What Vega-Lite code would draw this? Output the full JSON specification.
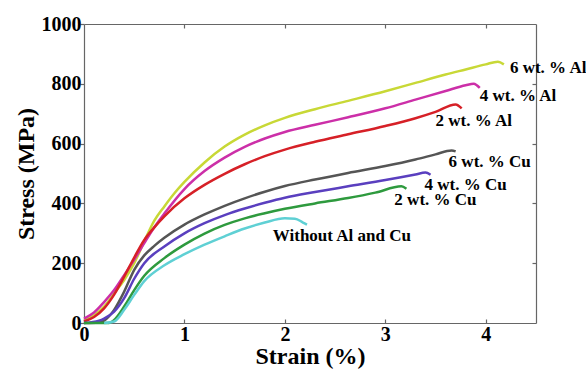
{
  "$schema": "https://vega.github.io/schema/vega-lite/v6.json",
  "width": 452,
  "height": 299,
  "autosize": {"type": "none"},
  "padding": {"left": 84, "top": 24, "right": 50, "bottom": 47},
  "background": "white",
  "config": {
    "view": {"stroke": null},
    "font": "Liberation Serif, Times New Roman, serif",
    "text": {"font": "Liberation Serif, Times New Roman, serif"},
    "axis": {
      "grid": false,
      "domainColor": "#666666",
      "tickColor": "#666666",
      "domainWidth": 1.2,
      "tickWidth": 1.2,
      "labelFont": "Liberation Serif, Times New Roman, serif",
      "labelFontWeight": "bold",
      "labelFontSize": 20,
      "labelColor": "black",
      "titleFont": "Liberation Serif, Times New Roman, serif",
      "titleFontWeight": "bold",
      "titleFontSize": 24,
      "titleColor": "black"
    }
  },
  "datasets": {
    "curves": [
      {"series": "6Al", "strain": 0, "stress": 10},
      {"series": "6Al", "strain": 0.1, "stress": 26},
      {"series": "6Al", "strain": 0.2, "stress": 55},
      {"series": "6Al", "strain": 0.3, "stress": 99},
      {"series": "6Al", "strain": 0.4, "stress": 144},
      {"series": "6Al", "strain": 0.5, "stress": 200},
      {"series": "6Al", "strain": 0.6, "stress": 273},
      {"series": "6Al", "strain": 0.7, "stress": 342},
      {"series": "6Al", "strain": 0.8, "stress": 390},
      {"series": "6Al", "strain": 0.9, "stress": 434},
      {"series": "6Al", "strain": 1.0, "stress": 472},
      {"series": "6Al", "strain": 1.2, "stress": 537},
      {"series": "6Al", "strain": 1.4, "stress": 590},
      {"series": "6Al", "strain": 1.6, "stress": 630},
      {"series": "6Al", "strain": 1.8, "stress": 661},
      {"series": "6Al", "strain": 2.0, "stress": 686},
      {"series": "6Al", "strain": 2.3, "stress": 715},
      {"series": "6Al", "strain": 2.63, "stress": 743},
      {"series": "6Al", "strain": 3.0, "stress": 775},
      {"series": "6Al", "strain": 3.3, "stress": 803},
      {"series": "6Al", "strain": 3.6, "stress": 831},
      {"series": "6Al", "strain": 3.8, "stress": 848},
      {"series": "6Al", "strain": 4.0, "stress": 865},
      {"series": "6Al", "strain": 4.12, "stress": 874},
      {"series": "6Al", "strain": 4.18, "stress": 865},
      {"series": "4Al", "strain": 0, "stress": 15},
      {"series": "4Al", "strain": 0.1, "stress": 35},
      {"series": "4Al", "strain": 0.2, "stress": 70},
      {"series": "4Al", "strain": 0.3, "stress": 110},
      {"series": "4Al", "strain": 0.4, "stress": 160},
      {"series": "4Al", "strain": 0.5, "stress": 212},
      {"series": "4Al", "strain": 0.6, "stress": 267},
      {"series": "4Al", "strain": 0.7, "stress": 320},
      {"series": "4Al", "strain": 0.8, "stress": 366},
      {"series": "4Al", "strain": 1.0, "stress": 448},
      {"series": "4Al", "strain": 1.2, "stress": 508},
      {"series": "4Al", "strain": 1.4, "stress": 553},
      {"series": "4Al", "strain": 1.6, "stress": 589},
      {"series": "4Al", "strain": 1.8, "stress": 617},
      {"series": "4Al", "strain": 2.0, "stress": 639},
      {"series": "4Al", "strain": 2.3, "stress": 663},
      {"series": "4Al", "strain": 2.63, "stress": 688},
      {"series": "4Al", "strain": 3.0, "stress": 718},
      {"series": "4Al", "strain": 3.3, "stress": 747},
      {"series": "4Al", "strain": 3.6, "stress": 776},
      {"series": "4Al", "strain": 3.8, "stress": 795},
      {"series": "4Al", "strain": 3.88, "stress": 800},
      {"series": "4Al", "strain": 3.94, "stress": 786},
      {"series": "2Al", "strain": 0, "stress": 5},
      {"series": "2Al", "strain": 0.1, "stress": 20},
      {"series": "2Al", "strain": 0.2, "stress": 49},
      {"series": "2Al", "strain": 0.3, "stress": 95},
      {"series": "2Al", "strain": 0.4, "stress": 155},
      {"series": "2Al", "strain": 0.5, "stress": 219},
      {"series": "2Al", "strain": 0.6, "stress": 278},
      {"series": "2Al", "strain": 0.7, "stress": 320},
      {"series": "2Al", "strain": 0.8, "stress": 357},
      {"series": "2Al", "strain": 1.0, "stress": 417},
      {"series": "2Al", "strain": 1.2, "stress": 462},
      {"series": "2Al", "strain": 1.4, "stress": 499},
      {"series": "2Al", "strain": 1.6, "stress": 531},
      {"series": "2Al", "strain": 1.8, "stress": 558},
      {"series": "2Al", "strain": 2.0, "stress": 580},
      {"series": "2Al", "strain": 2.3, "stress": 606},
      {"series": "2Al", "strain": 2.63, "stress": 631},
      {"series": "2Al", "strain": 3.0, "stress": 659},
      {"series": "2Al", "strain": 3.3, "stress": 685},
      {"series": "2Al", "strain": 3.5, "stress": 706},
      {"series": "2Al", "strain": 3.7, "stress": 731},
      {"series": "2Al", "strain": 3.76, "stress": 718},
      {"series": "6Cu", "strain": 0, "stress": 0},
      {"series": "6Cu", "strain": 0.15, "stress": 2},
      {"series": "6Cu", "strain": 0.2, "stress": 8},
      {"series": "6Cu", "strain": 0.3, "stress": 44},
      {"series": "6Cu", "strain": 0.4, "stress": 105},
      {"series": "6Cu", "strain": 0.5, "stress": 178},
      {"series": "6Cu", "strain": 0.6, "stress": 226},
      {"series": "6Cu", "strain": 0.7, "stress": 258},
      {"series": "6Cu", "strain": 0.8, "stress": 285},
      {"series": "6Cu", "strain": 1.0, "stress": 329},
      {"series": "6Cu", "strain": 1.2, "stress": 363},
      {"series": "6Cu", "strain": 1.4, "stress": 392},
      {"series": "6Cu", "strain": 1.6, "stress": 417},
      {"series": "6Cu", "strain": 1.8, "stress": 439},
      {"series": "6Cu", "strain": 2.0, "stress": 458},
      {"series": "6Cu", "strain": 2.3, "stress": 480},
      {"series": "6Cu", "strain": 2.63, "stress": 502},
      {"series": "6Cu", "strain": 3.0, "stress": 525},
      {"series": "6Cu", "strain": 3.3, "stress": 547},
      {"series": "6Cu", "strain": 3.5, "stress": 564},
      {"series": "6Cu", "strain": 3.66, "stress": 577},
      {"series": "6Cu", "strain": 3.7, "stress": 574},
      {"series": "4Cu", "strain": 0, "stress": 0},
      {"series": "4Cu", "strain": 0.15, "stress": 8},
      {"series": "4Cu", "strain": 0.2, "stress": 15},
      {"series": "4Cu", "strain": 0.3, "stress": 38},
      {"series": "4Cu", "strain": 0.4, "stress": 83},
      {"series": "4Cu", "strain": 0.5, "stress": 148},
      {"series": "4Cu", "strain": 0.6, "stress": 200},
      {"series": "4Cu", "strain": 0.8, "stress": 256},
      {"series": "4Cu", "strain": 1.0, "stress": 300},
      {"series": "4Cu", "strain": 1.2, "stress": 334},
      {"series": "4Cu", "strain": 1.4, "stress": 361},
      {"series": "4Cu", "strain": 1.6, "stress": 383},
      {"series": "4Cu", "strain": 1.8, "stress": 402},
      {"series": "4Cu", "strain": 2.0, "stress": 419},
      {"series": "4Cu", "strain": 2.3, "stress": 438},
      {"series": "4Cu", "strain": 2.63, "stress": 457},
      {"series": "4Cu", "strain": 3.0, "stress": 478},
      {"series": "4Cu", "strain": 3.3, "stress": 497},
      {"series": "4Cu", "strain": 3.4, "stress": 503},
      {"series": "4Cu", "strain": 3.45, "stress": 496},
      {"series": "2Cu", "strain": 0, "stress": 0},
      {"series": "2Cu", "strain": 0.25, "stress": 0},
      {"series": "2Cu", "strain": 0.3, "stress": 10},
      {"series": "2Cu", "strain": 0.4, "stress": 55},
      {"series": "2Cu", "strain": 0.5, "stress": 110},
      {"series": "2Cu", "strain": 0.6, "stress": 158},
      {"series": "2Cu", "strain": 0.8, "stress": 217},
      {"series": "2Cu", "strain": 1.0, "stress": 262},
      {"series": "2Cu", "strain": 1.2, "stress": 299},
      {"series": "2Cu", "strain": 1.4, "stress": 328},
      {"series": "2Cu", "strain": 1.6, "stress": 350},
      {"series": "2Cu", "strain": 1.8, "stress": 367},
      {"series": "2Cu", "strain": 2.0, "stress": 382},
      {"series": "2Cu", "strain": 2.3, "stress": 400},
      {"series": "2Cu", "strain": 2.63, "stress": 418},
      {"series": "2Cu", "strain": 2.9, "stress": 436},
      {"series": "2Cu", "strain": 3.16, "stress": 457},
      {"series": "2Cu", "strain": 3.21, "stress": 449},
      {"series": "none", "strain": 0.2, "stress": 0},
      {"series": "none", "strain": 0.3, "stress": 5},
      {"series": "none", "strain": 0.4, "stress": 44},
      {"series": "none", "strain": 0.5, "stress": 94},
      {"series": "none", "strain": 0.6, "stress": 140},
      {"series": "none", "strain": 0.8, "stress": 193},
      {"series": "none", "strain": 1.0, "stress": 230},
      {"series": "none", "strain": 1.2, "stress": 262},
      {"series": "none", "strain": 1.4, "stress": 290},
      {"series": "none", "strain": 1.6, "stress": 316},
      {"series": "none", "strain": 1.8, "stress": 336},
      {"series": "none", "strain": 2.0, "stress": 350},
      {"series": "none", "strain": 2.1, "stress": 349},
      {"series": "none", "strain": 2.18, "stress": 336},
      {"series": "none", "strain": 2.22, "stress": 329}
    ],
    "labels": [
      {"label": "6 wt. % Al", "strain": 4.24, "stress": 852},
      {"label": "4 wt. % Al", "strain": 3.94, "stress": 759},
      {"label": "2 wt. % Al", "strain": 3.5, "stress": 675},
      {"label": "6 wt. % Cu", "strain": 3.63, "stress": 537},
      {"label": "4 wt. % Cu", "strain": 3.39, "stress": 462},
      {"label": "2 wt. % Cu", "strain": 3.09, "stress": 411},
      {"label": "Without Al and Cu", "strain": 1.88, "stress": 290}
    ]
  },
  "layer": [
    {
      "data": {"name": "curves"},
      "mark": {"type": "line", "strokeWidth": 2.5, "interpolate": "monotone"},
      "encoding": {
        "x": {
          "field": "strain", "type": "quantitative",
          "scale": {"domain": [0, 4.5], "nice": false},
          "axis": {"orient": "bottom", "values": [0, 1, 2, 3, 4], "format": "d", "tickSize": -4, "labelPadding": 5, "title": "Strain (%)", "titlePadding": 0, "labelFlush": false}
        },
        "y": {
          "field": "stress", "type": "quantitative",
          "scale": {"domain": [0, 1000], "nice": false},
          "axis": {"orient": "left", "values": [0, 200, 400, 600, 800, 1000], "format": "d", "tickSize": 4, "labelPadding": -1, "title": "Stress (MPa)", "titlePadding": 3, "labelFlush": false}
        },
        "color": {
          "field": "series", "type": "nominal",
          "scale": {
            "domain": ["6Al", "4Al", "2Al", "6Cu", "4Cu", "2Cu", "none"],
            "range": ["#c8d836", "#cc2fa8", "#d62027", "#555555", "#5a3fbf", "#2e9a3e", "#5fd0d4"]
          },
          "legend": null
        }
      }
    },
    {
      "data": {"name": "labels"},
      "mark": {"type": "text", "align": "left", "baseline": "middle", "fontWeight": "bold", "fontSize": 17, "font": "Liberation Serif, Times New Roman, serif", "color": "black"},
      "encoding": {
        "x": {
          "field": "strain", "type": "quantitative",
          "scale": {"domain": [0, 4.5], "nice": false},
          "axis": {"orient": "top", "values": [1, 2, 3, 4], "labels": false, "tickSize": -4, "title": null}
        },
        "y": {
          "field": "stress", "type": "quantitative",
          "scale": {"domain": [0, 1000], "nice": false},
          "axis": {"orient": "right", "values": [200, 400, 600, 800], "labels": false, "tickSize": -4, "title": null}
        },
        "text": {"field": "label"}
      }
    }
  ],
  "resolve": {"axis": {"x": "independent", "y": "independent"}}
}
